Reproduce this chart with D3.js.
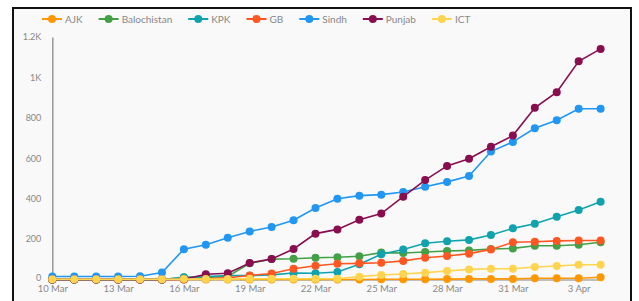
<!DOCTYPE html>
<html>
<head>
<meta charset="UTF-8">
<title></title>
<style>
  body { margin: 0; background: #fff; }
  text { font-family: Lato, "Noto Sans", sans-serif; }
</style>
</head>
<body>
<div id="chart"></div>
<script src="https://d3js.org/d3.v7.min.js"></script>
<script>
// dates on the x axis (one point per day)
var days = ["10 Mar", "11 Mar", "12 Mar", "13 Mar", "14 Mar", "15 Mar", "16 Mar", "17 Mar", "18 Mar",
  "19 Mar", "20 Mar", "21 Mar", "22 Mar", "23 Mar", "24 Mar", "25 Mar", "26 Mar", "27 Mar", "28 Mar",
  "29 Mar", "30 Mar", "31 Mar", "1 Apr", "2 Apr", "3 Apr", "4 Apr"];
var xTickLabels = ["10 Mar", "13 Mar", "16 Mar", "19 Mar", "22 Mar", "25 Mar", "28 Mar", "31 Mar", "3 Apr"];
var yTicks = [0, 200, 400, 600, 800, 1000, 1200];

var regions = ["AJK", "Balochistan", "KPK", "GB", "Sindh", "Punjab", "ICT"];
var ajk = [0, 0, 0, 0, 0, 0, 0, 0, 0, 0, 0, 0, 0, 0, 0, 1, 1, 1, 2, 3, 3, 3, 6, 6, 6, 11];
var balochistan = [0, 0, 0, 0, 0, 0, 10, 10, 15, 80, 101, 103, 108, 110, 115, 133, 131, 136, 141, 144, 151, 154, 167, 167, 172, 184];
var kpk = [0, 0, 0, 0, 0, 0, 11, 15, 19, 19, 23, 32, 31, 37, 75, 125, 148, 179, 189, 196, 220, 253, 276, 311, 344, 385];
var gb = [0, 0, 0, 0, 0, 0, 0, 3, 9, 20, 30, 53, 68, 78, 80, 83, 92, 108, 116, 128, 149, 184, 187, 191, 193, 193];
var sindh = [15, 15, 15, 15, 16, 35, 150, 172, 207, 238, 260, 293, 354, 400, 415, 420, 433, 459, 483, 512, 633, 681, 748, 788, 845, 845];
var punjab = [0, 0, 0, 0, 0, 0, 1, 26, 31, 82, 101, 151, 227, 248, 296, 326, 410, 492, 562, 598, 657, 712, 850, 927, 1080, 1141];
var ict = [1, 1, 1, 1, 1, 1, 2, 2, 2, 4, 4, 4, 4, 4, 14, 22, 27, 34, 42, 50, 53, 53, 62, 67, 73, 73];

var colors = ["#ff9800", "#43a047", "#11a3ad", "#ff5722", "#2196f3", "#880e4f", "#ffd54f"];
var series = [ajk, balochistan, kpk, gb, sindh, punjab, ict];

var width = 639, height = 301;
var svg = d3.select("#chart").append("svg")
  .attr("width", width)
  .attr("height", height);

// frame
svg.append("rect")
  .attr("x", 13).attr("y", 8)
  .attr("width", 618).attr("height", 310)
  .attr("fill", "#f9f9f9")
  .attr("stroke", "#111")
  .attr("stroke-width", 2);

var x = d3.scalePoint().domain(days).range([52.3, 600.6]);
var y = d3.scaleLinear().domain([0, 1200]).range([279.5, 37]);

// y axis
var yAxis = d3.axisLeft(y).tickValues(yTicks).tickSize(0).tickPadding(11)
  .tickFormat(function(d) { return d >= 1000 ? (d / 1000) + "K" : d; });
var gy = svg.append("g").attr("transform", "translate(52.3,0)").call(yAxis);
gy.select(".domain").attr("stroke", "#999").attr("stroke-width", 1.5);
gy.selectAll("text").attr("fill", "#888").attr("font-size", "9px")
  .style("font-family", "Lato, sans-serif");
// lift the zero label a little so it clears the date below
gy.selectAll(".tick").filter(function(d) { return d === 0; }).select("text").attr("dy", "0.1em");

// x axis
var xAxis = d3.axisBottom(x).tickValues(xTickLabels).tickSize(0).tickPadding(6);
var gx = svg.append("g").attr("transform", "translate(0,279.5)").call(xAxis);
gx.select(".domain").attr("stroke", "#aaa").attr("stroke-width", 1.5);
gx.selectAll("text").attr("fill", "#888").attr("font-size", "9.5px")
  .style("font-family", "Lato, sans-serif");

var line = d3.line()
  .x(function(d, i) { return x(days[i]); })
  .y(function(d) { return y(d); });

series.forEach(function(vals, k) {
  var g = svg.append("g").attr("class", "series" + k);
  g.append("path")
    .attr("d", line(vals))
    .attr("fill", "none")
    .attr("stroke", colors[k])
    .attr("stroke-width", 1.6);
  g.selectAll("circle")
    .data(vals)
    .enter().append("circle")
    .attr("cx", function(d, i) { return x(days[i]); })
    .attr("cy", function(d) { return y(d); })
    .attr("r", 4)
    .attr("fill", colors[k]);
});

// legend, laid out left to right
var legend = svg.append("g").attr("transform", "translate(0,19)");
var lx = 42;
regions.forEach(function(name, k) {
  var item = legend.append("g").attr("transform", "translate(" + lx + ",0)");
  item.append("line")
    .attr("x1", 0).attr("x2", 20).attr("y1", 0).attr("y2", 0)
    .attr("stroke", colors[k]).attr("stroke-width", 2);
  item.append("circle").attr("cx", 10).attr("cy", 0).attr("r", 4).attr("fill", colors[k]);
  var t = item.append("text")
    .attr("x", 23).attr("y", 3.5)
    .attr("fill", "#888")
    .attr("font-size", "10px")
    .text(name);
  lx += 23 + t.node().getComputedTextLength() + 16;
});
</script>
</body>
</html>
